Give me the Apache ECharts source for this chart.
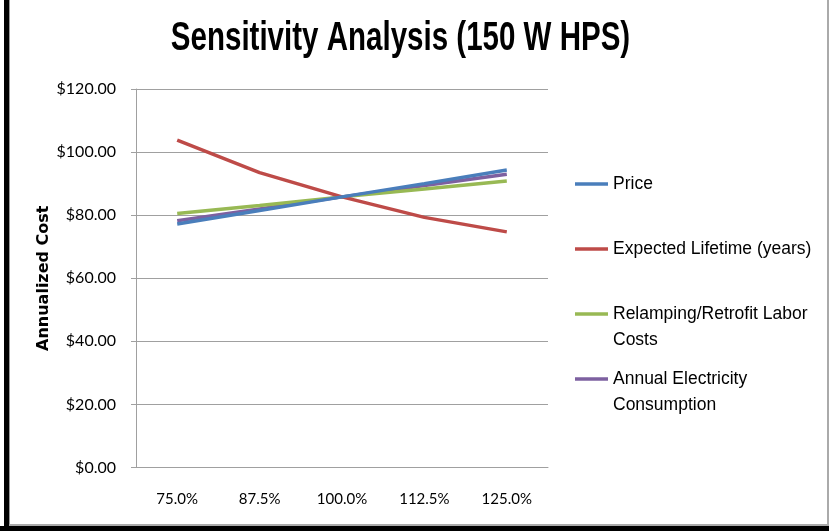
<!DOCTYPE html>
<html><head><meta charset="utf-8">
<script src="https://cdn.jsdelivr.net/npm/echarts@6/dist/echarts.min.js"></script>
<style>html,body{margin:0;padding:0;background:#fff}#c{width:829px;height:531px}</style>
</head><body><div id="c"></div>
<script>
const categories = ['75.0%', '87.5%', '100.0%', '112.5%', '125.0%'];
const priceValues = [77.2, 81.5, 85.8, 90.0, 94.3];
const lifetimeValues = [103.8, 93.5, 85.8, 79.3, 74.7];
const laborValues = [80.5, 83.1, 85.8, 88.3, 90.8];
const electricityValues = [78.2, 82.0, 85.8, 89.4, 93.0];
const seriesNames = ['Price', 'Expected Lifetime (years)', 'Relamping/Retrofit Labor Costs', 'Annual Electricity Consumption'];
const legendLabels = ['Price', 'Expected Lifetime (years)', ' \nRelamping/Retrofit Labor\nCosts', ' \nAnnual Electricity\nConsumption'];
const titleText = 'Sensitivity Analysis (150 W HPS)';

const colors = ['#4a7ebb', '#be4b48', '#98b954', '#7d60a0'];
const seriesData = [priceValues, lifetimeValues, laborValues, electricityValues];

const chart = echarts.init(document.getElementById('c'));
const iconCenters = [184, 249, 314, 379];
const legends = seriesNames.map((n, i) => {
  const lines = legendLabels[i].split('\n').length;
  return {
    data: [n],
    orient: 'vertical',
    left: 575,
    top: iconCenters[i] - lines * 13,
    padding: 0,
    icon: 'rect',
    itemWidth: 33,
    itemHeight: 3.5,
    formatter: () => legendLabels[i],
    textStyle: {
      fontFamily: 'Liberation Sans, Arial',
      fontSize: 17.5,
      color: '#000',
      lineHeight: 26
    },
    selectedMode: false
  };
});

chart.setOption({
  animation: false,
  backgroundColor: '#fff',
  legend: legends,
  grid: { left: 136, right: 281, top: 89, bottom: 63.5, containLabel: false },
  xAxis: {
    type: 'category',
    data: categories,
    boundaryGap: true,
    axisLine: { lineStyle: { color: '#a0a0a0', width: 1 } },
    axisTick: { show: false },
    axisLabel: { fontFamily: 'Lato, Carlito, Calibri, sans-serif', fontSize: 15, color: '#000', margin: 24 }
  },
  yAxis: {
    type: 'value',
    min: 0, max: 120, interval: 20,
    name: 'Annualized Cost',
    nameLocation: 'middle',
    nameGap: 84,
    nameTextStyle: { fontFamily: 'DejaVu Sans', fontWeight: 'bold', fontSize: 16, color: '#000' },
    axisLine: { show: true, lineStyle: { color: '#a0a0a0', width: 1 } },
    axisTick: { show: true, length: 5, lineStyle: { color: '#a0a0a0' } },
    splitLine: { lineStyle: { color: '#a0a0a0', width: 1 } },
    axisLabel: {
      fontFamily: 'Lato, Carlito, Calibri, sans-serif', fontSize: 16, color: '#000', margin: 20,
      formatter: v => '$' + v.toFixed(2)
    }
  },
  series: seriesNames.map((n, i) => ({
    name: n,
    type: 'line',
    data: seriesData[i],
    symbol: 'none',
    showSymbol: false,
    lineStyle: { color: colors[i], width: 3.5 },
    itemStyle: { color: colors[i] },
    z: 10 - i
  })),
  graphic: [
    { type: 'text', x: 400.5, y: 18, scaleX: 0.72,
      style: { text: titleText, fontFamily: 'Liberation Sans, Arial', fontWeight: 'bold', fontSize: 41, fill: '#000', textAlign: 'center', textVerticalAlign: 'top' }, z: 100 },
    { type: 'rect', shape: { x: 4, y: 0, width: 5, height: 531 }, style: { fill: '#000' }, z: 100 },
    { type: 'rect', shape: { x: 9, y: 0, width: 1, height: 525 }, style: { fill: '#999' }, z: 100 },
    { type: 'rect', shape: { x: 827, y: 0, width: 2, height: 526 }, style: { fill: '#aaa' }, z: 100 },
    { type: 'rect', shape: { x: 9, y: 524, width: 820, height: 2 }, style: { fill: '#aaa' }, z: 100 },
    { type: 'rect', shape: { x: 0, y: 526, width: 829, height: 5 }, style: { fill: '#000' }, z: 100 }
  ]
});
</script></body></html>
